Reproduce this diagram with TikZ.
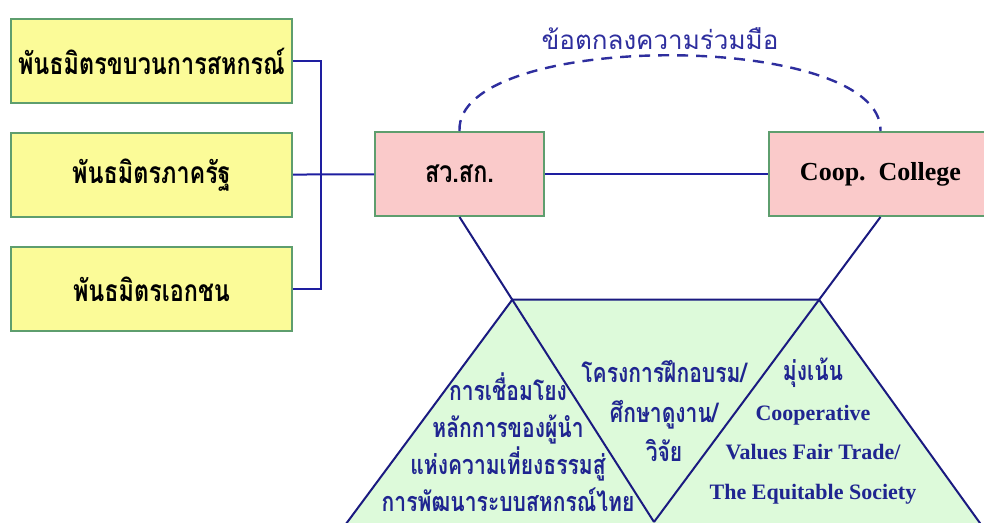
\documentclass[tikz,border=0pt]{standalone}
\usepackage{fontspec}
\setmainfont{Liberation Serif}
\newfontfamily\thaifont[Script=Thai,FakeStretch=0.78]{Loma}
\newfontfamily\thaiplain[Script=Thai]{Loma}
\usetikzlibrary{positioning,calc}
\definecolor{boxline}{HTML}{5E9E6E}
\definecolor{lemon}{HTML}{FBFB98}
\definecolor{blush}{HTML}{FACACA}
\definecolor{navy}{HTML}{1E1EA0}
\definecolor{deepnavy}{HTML}{1A1A80}
\definecolor{mint}{HTML}{DDFADA}
\definecolor{textblue}{HTML}{1F2590}
\definecolor{arcblue}{HTML}{2E2E9E}
\tikzset{
  coop diagram/.style={
    x=1pt,
    y=-1pt,
    line join=miter
  },
  partnerbox/.style={
    draw=boxline,
    fill=lemon,
    line width=2pt,
    minimum width=281pt,
    minimum height=84pt,
    inner sep=0pt,
    text=black,
    font=\thaifont\bfseries\fontsize{30}{32}\selectfont
  },
  orgbox/.style={
    partnerbox,
    fill=blush
  },
  linkline/.style={
    draw=navy,
    line width=2pt
  },
  wedgeline/.style={
    draw=deepnavy,
    line width=2pt
  },
  mouline/.style={
    draw=arcblue,
    line width=2.4pt,
    dash pattern=on 11pt off 8pt
  },
  moulabel/.style={
    text=arcblue,
    font=\thaiplain\fontsize{26}{28}\selectfont
  },
  thaitext/.style={
    text=textblue,
    align=center,
    font=\thaifont\bfseries\fontsize{27}{37}\selectfont
  },
  engtext/.style={
    text=textblue,
    align=center,
    font=\bfseries\fontsize{22}{39.5}\selectfont
  }
}
\begin{document}
\begin{tikzpicture}[coop diagram, node distance=28pt]
\useasboundingbox (0,0) rectangle (984,522);
\clip (0,0) rectangle (984,522);
\fill[white] (0,0) rectangle (984,522);
% partners on the left
\node[partnerbox] (movement) at (151.5,61) {พันธมิตรขบวนการสหกรณ์};
\node[partnerbox, below=of movement] (state) {พันธมิตรภาครัฐ};
\node[partnerbox, below=of state] (private) {พันธมิตรเอกชน};
% the two colleges
\node[orgbox, minimum width=169pt] (sosk) at (459.5,174) {สว.สก.};
\node[orgbox, minimum width=223pt, font=\bfseries\fontsize{26}{28}\selectfont, right=223pt of sosk] (college) {Coop.~~College};
% wedge below
\coordinate (vtip) at (654,522);
\coordinate (wl) at ($(sosk.south)!0.2712!(vtip)$);
\coordinate (wr) at ($(college.south)!0.2712!(vtip)$);
\coordinate (wlfoot) at ($(wl)+(-175,236)$);
\coordinate (wrfoot) at ($(wr)+(170,236)$);
\fill[mint] (wl) -- (wr) -- (wrfoot) -- (wlfoot) -- cycle;
\draw[wedgeline] (wlfoot) -- (wl) -- (wr) -- (wrfoot);
\draw[wedgeline] (sosk.south) -- (wl) -- (vtip);
\draw[wedgeline] (college.south) -- (wr) -- (vtip);
% links
\draw[linkline] (movement.east) -- ++(28,0) |- (private.east);
\draw[linkline] (state) -- (sosk);
\draw[linkline] (sosk) -- (college);
\draw[mouline] (sosk.north) .. controls (455,30) and (883,30) .. (college.north);
\node[moulabel] (mou) at (660,39) {ข้อตกลงความร่วมมือ};
% texts in the wedge
\node[thaitext] (linking) at (508,442) {การเชื่อมโยง\\หลักการของผู้นำ\\แห่งความเที่ยงธรรมสู่\\การพัฒนาระบบสหกรณ์ไทย};
\node[thaitext, font=\thaifont\bfseries\fontsize{27}{39.5}\selectfont] (training) at (664,411) {โครงการฝึกอบรม/\\ศึกษาดูงาน/\\วิจัย};
\node[engtext] (focus) at (813,431) {{\thaifont\fontsize{27}{30}\selectfont มุ่งเน้น}\\Cooperative\\Values Fair Trade/\\The Equitable Society};
\end{tikzpicture}
\end{document}
